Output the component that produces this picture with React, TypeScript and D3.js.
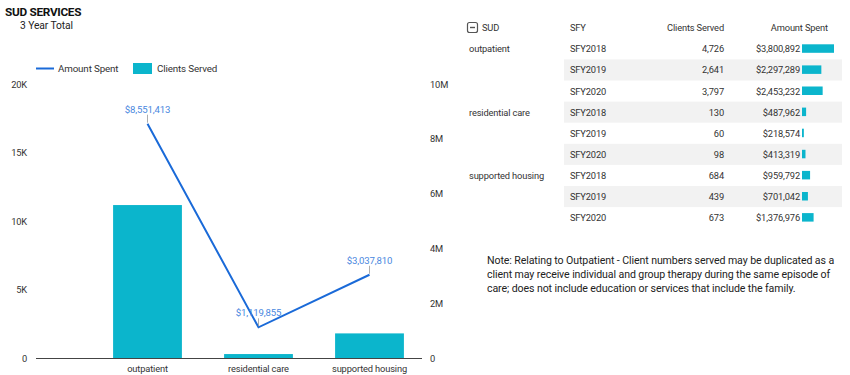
import React from "react";
import * as d3 from "d3";

const categories = ["outpatient", "residential care", "supported housing"];
const clientsServed = [11164, 288, 1796];
const amountSpent = [8551413, 1119855, 3037810];
const leftTicks = [0, 5000, 10000, 15000, 20000];
const rightTicks = [0, 2000000, 4000000, 6000000, 8000000, 10000000];

const tableCategories = ["outpatient", "", "", "residential care", "", "", "supported housing", "", ""];
const tableYears = ["SFY2018", "SFY2019", "SFY2020", "SFY2018", "SFY2019", "SFY2020", "SFY2018", "SFY2019", "SFY2020"];
const tableClients = [4726, 2641, 3797, 130, 60, 98, 684, 439, 673];
const tableAmounts = [3800892, 2297289, 2453232, 487962, 218574, 413319, 959792, 701042, 1376976];

const noteLines = [
  "Note: Relating to Outpatient - Client numbers served may be duplicated as a",
  "client may receive individual and group therapy during the same episode of",
  "care; does not include education or services that include the family.",
];

const TEAL = "#0bb5cc";
const BLUE = "#1a6ad8";
const LABEL_BLUE = "#4a88e0";
const TXT = "#333";
const FS = 9.3;
const LS = -0.15;

export default function App() {
  const x = d3.scaleBand<string>().domain(categories).range([92, 425]).paddingInner(0.38).paddingOuter(0.19);
  const yL = d3.scaleLinear().domain([0, 20000]).range([358, 84]);
  const yR = d3.scaleLinear().domain([0, 10000000]).range([358, 84]);
  const fmtK = (v: number) => (v === 0 ? "0" : v / 1000 + "K");
  const fmtM = (v: number) => (v === 0 ? "0" : v / 1000000 + "M");
  const fmtUSD = (v: number) => "$" + d3.format(",")(v);
  const line = d3
    .line<number>()
    .x((_, i) => (x(categories[i]) as number) + x.bandwidth() / 2)
    .y((d) => yR(d));

  const rowH = 21.1;
  const rowTop = 38.3;
  const barScale = d3.scaleLinear().domain([0, 3800892]).range([0, 32]);

  return (
    <svg width={850} height={375} style={{ position: "absolute", left: 0, top: 0, fontFamily: "Roboto, sans-serif" }}>
      <rect x={0} y={0} width={850} height={375} fill="#fff" />
      <text x={5} y={16} fontSize={11.8} fontWeight="bold" fill="#111" letterSpacing={-0.3}>SUD SERVICES</text>
      <text x={20} y={29} fontSize={10.3} fill="#222" letterSpacing={-0.1}>3 Year Total</text>

      {/* legend */}
      <line x1={36} x2={54} y1={68.5} y2={68.5} stroke={BLUE} strokeWidth={2} />
      <text x={58} y={72} fontSize={9.8} fill={TXT} letterSpacing={LS}>Amount Spent</text>
      <rect x={133} y={63} width={19} height={11} fill={TEAL} />
      <text x={157} y={72} fontSize={9.8} fill={TXT} letterSpacing={LS}>Clients Served</text>

      {/* axes labels */}
      {leftTicks.map((t) => (
        <text key={"l" + t} x={27} y={yL(t) + 3.5} fontSize={FS} textAnchor="end" fill={TXT} letterSpacing={LS}>{fmtK(t)}</text>
      ))}
      {rightTicks.map((t) => (
        <text key={"r" + t} x={430} y={yR(t) + 3.5} fontSize={FS} textAnchor="start" fill={TXT} letterSpacing={LS}>{fmtM(t)}</text>
      ))}

      {/* bars */}
      {categories.map((c, i) => (
        <rect key={c} x={x(c)} y={yL(clientsServed[i])} width={x.bandwidth()} height={358 - yL(clientsServed[i])} fill={TEAL} />
      ))}
      <line x1={36} x2={422} y1={358.5} y2={358.5} stroke="#444" strokeWidth={1} />
      {categories.map((c) => (
        <text key={"x" + c} x={(x(c) as number) + x.bandwidth() / 2} y={372} fontSize={FS} textAnchor="middle" fill={TXT} letterSpacing={LS}>{c}</text>
      ))}

      {/* line */}
      <path d={line(amountSpent) || ""} fill="none" stroke={BLUE} strokeWidth={2} />
      {amountSpent.map((v, i) => {
        const cx = (x(categories[i]) as number) + x.bandwidth() / 2;
        const cy = yR(v);
        return (
          <g key={"a" + i}>
            <line x1={cx} x2={cx} y1={cy - 9} y2={cy - 1} stroke="#999" strokeWidth={0.8} />
            <text x={cx} y={cy - 11} fontSize={9.6} textAnchor="middle" fill={LABEL_BLUE} letterSpacing={LS}>{fmtUSD(v)}</text>
          </g>
        );
      })}

      {/* table */}
      <rect x={467.5} y={22.5} width={10} height={10} rx={2} fill="none" stroke="#555" strokeWidth={1.2} />
      <line x1={470} x2={475} y1={27.5} y2={27.5} stroke="#555" strokeWidth={1.4} />
      <text x={482} y={31} fontSize={FS} fill={TXT} letterSpacing={LS}>SUD</text>
      <text x={570} y={31} fontSize={FS} fill={TXT} letterSpacing={LS}>SFY</text>
      <text x={724} y={31} fontSize={FS} fill={TXT} textAnchor="end" letterSpacing={LS}>Clients Served</text>
      <text x={828} y={31} fontSize={FS} fill={TXT} textAnchor="end" letterSpacing={LS}>Amount Spent</text>
      {tableYears.map((yr, i) => {
        const top = rowTop + i * rowH;
        const base = top + rowH / 2 + 3.5;
        return (
          <g key={"row" + i}>
            {i % 2 === 1 && <rect x={564} y={top} width={278} height={rowH} fill="#f2f2f2" />}
            {tableCategories[i] && <text x={469} y={base} fontSize={FS} fill={TXT} letterSpacing={LS}>{tableCategories[i]}</text>}
            <text x={570} y={base} fontSize={FS} fill={TXT} letterSpacing={LS}>{yr}</text>
            <text x={724} y={base} fontSize={FS} fill={TXT} textAnchor="end" letterSpacing={LS}>{d3.format(",")(tableClients[i])}</text>
            <text x={800} y={base} fontSize={FS} fill={TXT} textAnchor="end" letterSpacing={LS}>{fmtUSD(tableAmounts[i])}</text>
            <rect x={802} y={top + 6} width={Math.max(1, barScale(tableAmounts[i]))} height={8.5} fill={TEAL} />
          </g>
        );
      })}

      {/* note */}
      {noteLines.map((l, i) => (
        <text key={"n" + i} x={487} y={264 + i * 14} fontSize={10.6} fill="#222" letterSpacing={-0.1}>{l}</text>
      ))}
    </svg>
  );
}
